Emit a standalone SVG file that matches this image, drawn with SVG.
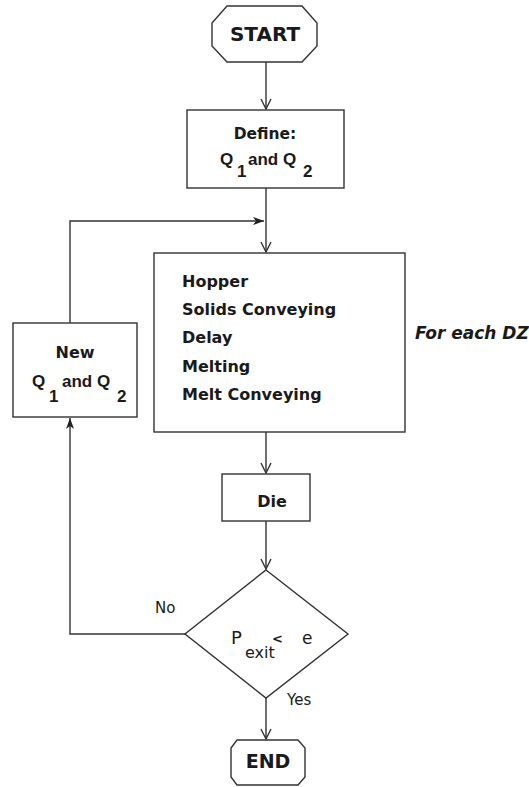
<svg xmlns="http://www.w3.org/2000/svg" width="529" height="787" viewBox="0 0 529 787">
<defs>
<style>
.shape{fill:#fff;stroke:#333;stroke-width:1.4}
.conn{fill:none;stroke:#333;stroke-width:1.4}
text{font-family:"DejaVu Sans","Liberation Sans",sans-serif;fill:#1a1a1a}
.b{font-weight:bold}
.t{font-size:16px}
.q{font-family:"Liberation Sans",Arial,sans-serif;font-weight:bold;font-size:17px}
</style>
<marker id="openV" viewBox="0 0 12 12" refX="11" refY="6" markerWidth="12" markerHeight="12" markerUnits="userSpaceOnUse" orient="auto">
<path d="M1,1 L11,6 L1,11" fill="none" stroke="#333" stroke-width="1.4"/>
</marker>
<marker id="solid" viewBox="0 0 12 10" refX="11" refY="5" markerWidth="12" markerHeight="10" markerUnits="userSpaceOnUse" orient="auto">
<path d="M0,1 L11,5 L0,9 L3,5 Z" fill="#222"/>
</marker>
</defs>
<rect width="529" height="787" fill="#fff"/>
<g id="connectors">
<line class="conn" x1="266" y1="62" x2="266" y2="109" marker-end="url(#openV)"/>
<line class="conn" x1="266" y1="188" x2="266" y2="252" marker-end="url(#openV)"/>
<polyline class="conn" points="70,323 70,221 264,221" marker-end="url(#solid)"/>
<line class="conn" x1="266" y1="432" x2="266" y2="473" marker-end="url(#openV)"/>
<line class="conn" x1="266" y1="521" x2="266" y2="569" marker-end="url(#openV)"/>
<polyline class="conn" points="185,634 70,634 70,418" marker-end="url(#solid)"/>
<line class="conn" x1="266" y1="698" x2="266" y2="739" marker-end="url(#openV)"/>
</g>
<g id="start">
<polygon class="shape" points="227,6 302,6 317,23 317,46 302,62 227,62 212,46 212,23"/>
<text class="b" x="265" y="41" font-size="20" text-anchor="middle">START</text>
</g>
<g id="define">
<rect class="shape" x="187" y="110" width="157" height="78"/>
<text class="b" x="265" y="139" font-size="15.5" text-anchor="middle">Define:</text>
<text class="q" x="220" y="165">Q</text>
<text class="q" x="237" y="177">1</text>
<text class="q" x="248" y="165">and Q</text>
<text class="q" x="303" y="177">2</text>
</g>
<g id="process">
<rect class="shape" x="154" y="253" width="251" height="179"/>
<text class="b t" x="182" y="287">Hopper</text>
<text class="b t" x="182" y="315">Solids Conveying</text>
<text class="b t" x="182" y="343">Delay</text>
<text class="b t" x="182" y="372">Melting</text>
<text class="b t" x="182" y="400">Melt Conveying</text>
</g>
<g id="foreach">
<text class="b" x="415" y="339" font-size="17" font-style="italic">For each DZ</text>
</g>
<g id="newq">
<rect class="shape" x="13" y="323" width="124" height="94"/>
<text class="b" x="75" y="358" font-size="16" text-anchor="middle">New</text>
<text class="q" x="32" y="387">Q</text>
<text class="q" x="49" y="402">1</text>
<text class="q" x="62" y="387">and Q</text>
<text class="q" x="117" y="402">2</text>
</g>
<g id="die">
<rect class="shape" x="222" y="474" width="88" height="47"/>
<text class="b" x="272" y="507" font-size="16" text-anchor="middle">Die</text>
</g>
<g id="decision">
<polygon class="shape" points="266,570 348,634 266,698 185,634"/>
<text x="231" y="644" font-size="18">P</text>
<text x="245" y="658" font-size="16">exit</text>
<text class="b" x="272" y="643" font-size="13">&lt;</text>
<text x="302" y="644" font-size="17">e</text>
</g>
<g id="labels">
<text x="155" y="613" font-size="15">No</text>
<text x="287" y="705" font-size="15">Yes</text>
</g>
<g id="end">
<polygon class="shape" points="237,740 298,740 305,748 305,777 298,785 237,785 231,777 231,748"/>
<text class="b" x="268" y="768" font-size="19" text-anchor="middle">END</text>
</g>
</svg>
